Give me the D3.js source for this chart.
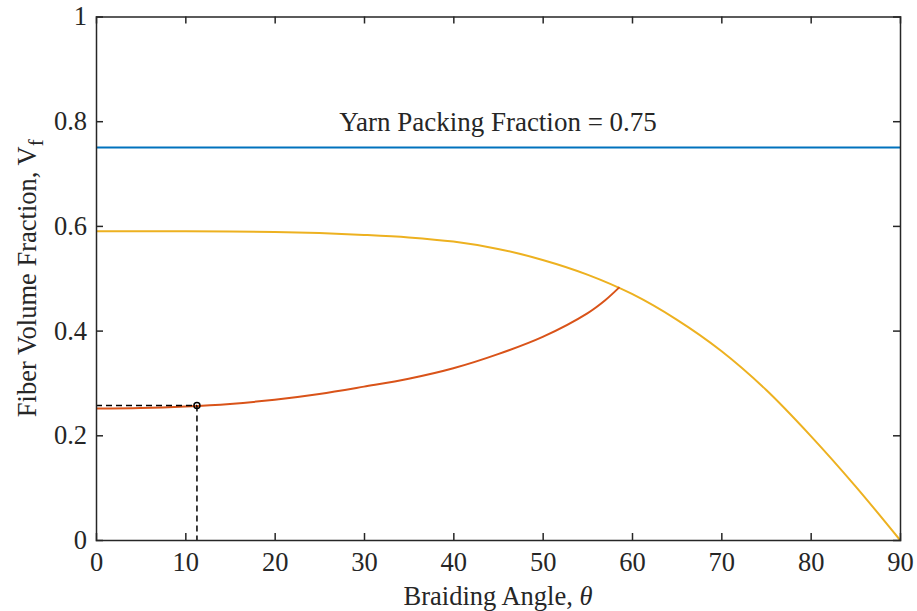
<!DOCTYPE html>
<html>
<head>
<meta charset="utf-8">
<script src="https://cdn.jsdelivr.net/npm/d3@7"></script>
<style>
  body { margin: 0; background: #fff; }
  text { font-family: "Liberation Serif", "Times New Roman", serif; fill: #262626; }
</style>
</head>
<body>
<div id="chart"></div>
<script>
// data
const yarnPacking = 0.75;

const thetaUpper = [0, 5, 10, 15, 20, 25, 30, 35, 40, 45, 50, 55, 60, 65, 70, 75, 80, 85, 90];
const vfUpper    = [0.590, 0.590, 0.5898, 0.5893, 0.5882, 0.5862, 0.5828, 0.5780, 0.5700, 0.5560, 0.5350, 0.5070, 0.4700, 0.4210, 0.3610, 0.2870, 0.1990, 0.1030, 0];

const thetaLower = [0, 5, 10, 15, 20, 25, 30, 35, 40, 45, 50, 55, 57, 58.6];
const vfLower    = [0.251, 0.252, 0.255, 0.260, 0.268, 0.279, 0.293, 0.308, 0.328, 0.355, 0.388, 0.433, 0.458, 0.483];

const markerTheta = [11.3];
const markerVf = [0.257];

const xTicks = [0, 10, 20, 30, 40, 50, 60, 70, 80, 90];
const yTicks = [0, 0.2, 0.4, 0.6, 0.8, 1];

const width = 917, height = 611;
const margin = { left: 96, right: 17, top: 16.5, bottom: 71 };
const w = width - margin.left - margin.right;
const h = height - margin.top - margin.bottom;

const svg = d3.select("#chart").append("svg")
  .attr("width", width)
  .attr("height", height);

const g = svg.append("g")
  .attr("transform", "translate(" + margin.left + "," + margin.top + ")");

const x = d3.scaleLinear().domain([0, 90]).range([0, w]);
const y = d3.scaleLinear().domain([0, 1]).range([h, 0]);

// lines
const line = d3.line()
  .x(d => x(d[0]))
  .y(d => y(d[1]))
  .curve(d3.curveCatmullRom.alpha(0.5));

g.append("path")
  .datum([[0, yarnPacking], [90, yarnPacking]])
  .attr("d", line)
  .attr("fill", "none")
  .attr("stroke", "#0072BD")
  .attr("stroke-width", 2);

g.append("path")
  .datum(thetaUpper.map((t, i) => [t, vfUpper[i]]))
  .attr("d", line)
  .attr("fill", "none")
  .attr("stroke", "#EDB120")
  .attr("stroke-width", 2);

g.append("path")
  .datum(thetaLower.map((t, i) => [t, vfLower[i]]))
  .attr("d", line)
  .attr("fill", "none")
  .attr("stroke", "#D95319")
  .attr("stroke-width", 2);

// dashed guides to the marked point
markerTheta.forEach((t, i) => {
  g.append("line")
    .attr("x1", x(0)).attr("x2", x(t))
    .attr("y1", y(markerVf[i])).attr("y2", y(markerVf[i]))
    .attr("stroke", "#000").attr("stroke-width", 1.5)
    .attr("stroke-dasharray", "6,4");
  g.append("line")
    .attr("x1", x(t)).attr("x2", x(t))
    .attr("y1", y(markerVf[i])).attr("y2", y(0))
    .attr("stroke", "#000").attr("stroke-width", 1.5)
    .attr("stroke-dasharray", "6,4");
});

g.selectAll(".marker")
  .data(markerTheta)
  .enter()
  .append("circle")
  .attr("cx", d => x(d))
  .attr("cy", (d, i) => y(markerVf[i]))
  .attr("r", 3)
  .attr("fill", "none")
  .attr("stroke", "#000")
  .attr("stroke-width", 1.5);

// axes, ticks pointing inward on all four sides
const fontSize = "26.5px";

g.append("g")
  .attr("transform", "translate(0," + h + ")")
  .call(d3.axisBottom(x).tickValues(xTicks).tickSize(-7).tickPadding(12).tickFormat(d3.format("d")));

g.append("g")
  .call(d3.axisLeft(y).tickValues(yTicks).tickSize(-7).tickPadding(9).tickFormat(d => d === 0 || d === 1 ? d : d3.format(".1f")(d)));

g.append("g")
  .call(d3.axisTop(x).tickValues(xTicks).tickSize(-7).tickFormat(""));

g.append("g")
  .attr("transform", "translate(" + w + ",0)")
  .call(d3.axisRight(y).tickValues(yTicks).tickSize(-7).tickFormat(""));

g.selectAll(".domain").attr("stroke", "#262626").attr("stroke-width", 1.5);
g.selectAll(".tick line").attr("stroke", "#262626").attr("stroke-width", 1.5);
g.selectAll(".tick text")
  .style("font-family", "'Liberation Serif', 'Times New Roman', serif")
  .style("font-size", fontSize)
  .attr("fill", "#262626");

// no tick marks on the corners
g.selectAll(".tick").filter(d => d === 0 || d === 90 || d === 1).select("line").attr("display", "none");

// annotation
g.append("text")
  .attr("x", x(45))
  .attr("y", y(yarnPacking) - 16)
  .attr("text-anchor", "middle")
  .style("font-size", "27px")
  .attr("fill", "#000")
  .text("Yarn Packing Fraction = 0.75");

// axis labels
svg.append("text")
  .attr("x", margin.left + w / 2)
  .attr("y", 605)
  .attr("text-anchor", "middle")
  .style("font-size", fontSize)
  .html('Braiding Angle, <tspan font-style="italic">θ</tspan>');

const yLabel = svg.append("text")
  .attr("transform", "translate(36," + (margin.top + h / 2) + ") rotate(-90)")
  .attr("text-anchor", "middle")
  .style("font-size", fontSize);
yLabel.append("tspan").text("Fiber Volume Fraction, V");
yLabel.append("tspan").attr("dy", 7).style("font-size", "21px").text("f");
</script>
</body>
</html>
